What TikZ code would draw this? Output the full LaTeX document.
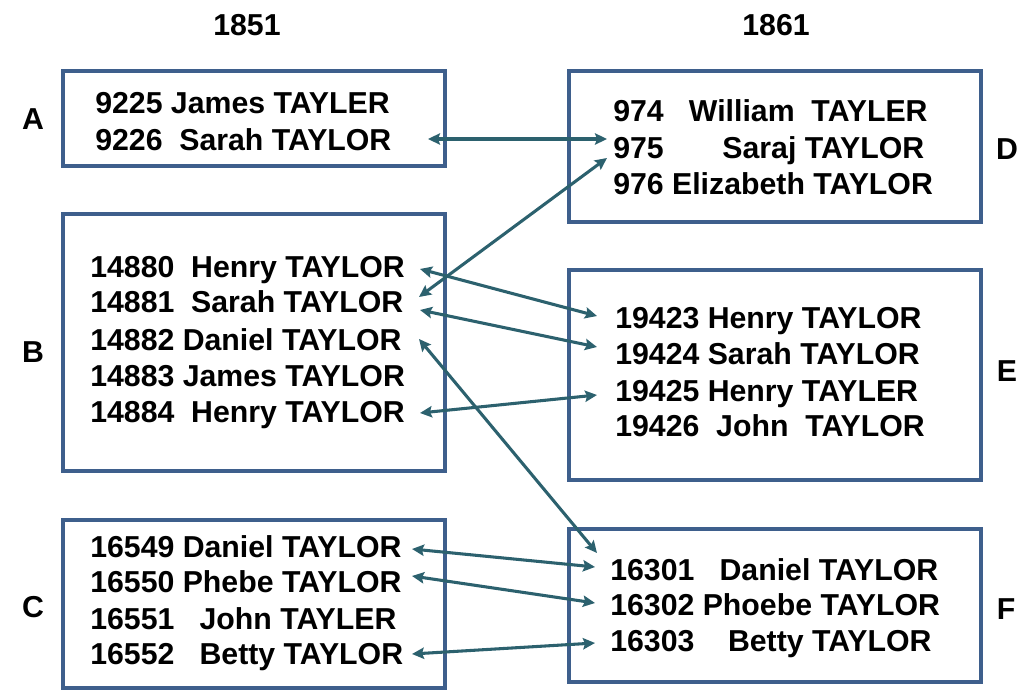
\documentclass[tikz,border=0pt]{standalone}
\usepackage{fontspec}
\setmainfont{Liberation Sans}
\usetikzlibrary{arrows.meta}
\definecolor{boxblue}{RGB}{62,95,140}
\definecolor{arrteal}{RGB}{44,97,110}
\begin{document}
\begin{tikzpicture}[x=0.75pt,y=-0.75pt,
  every node/.style={font=\bfseries\fontsize{22.7}{26}\selectfont, inner sep=0pt},
  rowtxt/.style={anchor=base west},
  lbl/.style={anchor=center},
  box/.style={draw=boxblue, line width=2.4pt},
  link/.style={draw=arrteal, line width=2.3pt, {Stealth[length=9pt,width=8.5pt,inset=1.5pt]}-{Stealth[length=9pt,width=8.5pt,inset=1.5pt]}}]
\useasboundingbox (0,0) rectangle (1020,691);
% headers
\node[lbl] (h1851) at (247,25) {1851};
\node[lbl] (h1861) at (776,25) {1861};
% side labels
\node[lbl] (la) at (33,119) {A};
\node[lbl] (lb) at (33,352) {B};
\node[lbl] (lc) at (33,607) {C};
\node[lbl] (ld) at (1007,149) {D};
\node[lbl] (le) at (1007,371) {E};
\node[lbl] (lf) at (1006,609) {F};
% boxes
\draw[box] (63,71) rectangle (445,166);
\draw[box] (63,214) rectangle (445,471);
\draw[box] (63,520) rectangle (445,688);
\draw[box] (569,71) rectangle (981,222);
\draw[box] (569,270) rectangle (981,480);
\draw[box] (569,529) rectangle (981,682);
% box A
\node[rowtxt] (a1) at (95,114) {9225 James TAYLER};
\node[rowtxt] (a2) at (95,151) {9226~~Sarah TAYLOR};
% box D
\node[rowtxt] (d1) at (613,122) {974~~~William~~TAYLER};
\node[rowtxt] (d2) at (613,159) {975\hspace{44pt}Saraj TAYLOR};
\node[rowtxt] (d3) at (613,195) {976 Elizabeth TAYLOR};
% box B
\node[rowtxt] (b1) at (90,278) {14880~~Henry TAYLOR};
\node[rowtxt] (b2) at (90,313) {14881~~Sarah TAYLOR};
\node[rowtxt] (b3) at (90,350) {14882 Daniel TAYLOR};
\node[rowtxt] (b4) at (90,386) {14883 James TAYLOR};
\node[rowtxt] (b5) at (90,422) {14884~~Henry TAYLOR};
% box E
\node[rowtxt] (e1) at (615,329) {19423 Henry TAYLOR};
\node[rowtxt] (e2) at (615,364) {19424 Sarah TAYLOR};
\node[rowtxt] (e3) at (615,401) {19425 Henry TAYLER};
\node[rowtxt] (e4) at (615,436) {19426~~John~~TAYLOR};
% box C
\node[rowtxt] (c1) at (90,557) {16549 Daniel TAYLOR};
\node[rowtxt] (c2) at (90,592) {16550 Phebe TAYLOR};
\node[rowtxt] (c3) at (90,629) {16551~~~John TAYLER};
\node[rowtxt] (c4) at (90,664) {16552~~~Betty TAYLOR};
% box F
\node[rowtxt] (f1) at (610,580) {16301~~~Daniel TAYLOR};
\node[rowtxt] (f2) at (610,615) {16302 Phoebe TAYLOR};
\node[rowtxt] (f3) at (610,651) {16303~~~~Betty TAYLOR};
% arrow end points
\coordinate (pa2) at (428,139);
\coordinate (pd2) at (607,139);
\coordinate (pb2d) at (419,297);
\coordinate (pd3) at (607,158);
\coordinate (pb1) at (420,269);
\coordinate (pe1) at (597,316);
\coordinate (pb2e) at (420,310);
\coordinate (pe2) at (597,347);
\coordinate (pb3) at (419,339);
\coordinate (pf1a) at (597,553);
\coordinate (pb5) at (420,413);
\coordinate (pe3) at (597,395);
\coordinate (pc1) at (412,549);
\coordinate (pf1) at (595,567);
\coordinate (pc2) at (412,576);
\coordinate (pf2) at (595,603);
\coordinate (pc4) at (412,654);
\coordinate (pf3) at (595,643);
% connectors
\draw[link] (pa2) -- (pd2);
\draw[link] (pb2d) -- (pd3);
\draw[link] (pb1) -- (pe1);
\draw[link] (pb2e) -- (pe2);
\draw[link] (pb3) -- (pf1a);
\draw[link] (pb5) -- (pe3);
\draw[link] (pc1) -- (pf1);
\draw[link] (pc2) -- (pf2);
\draw[link] (pc4) -- (pf3);
\end{tikzpicture}
\end{document}
